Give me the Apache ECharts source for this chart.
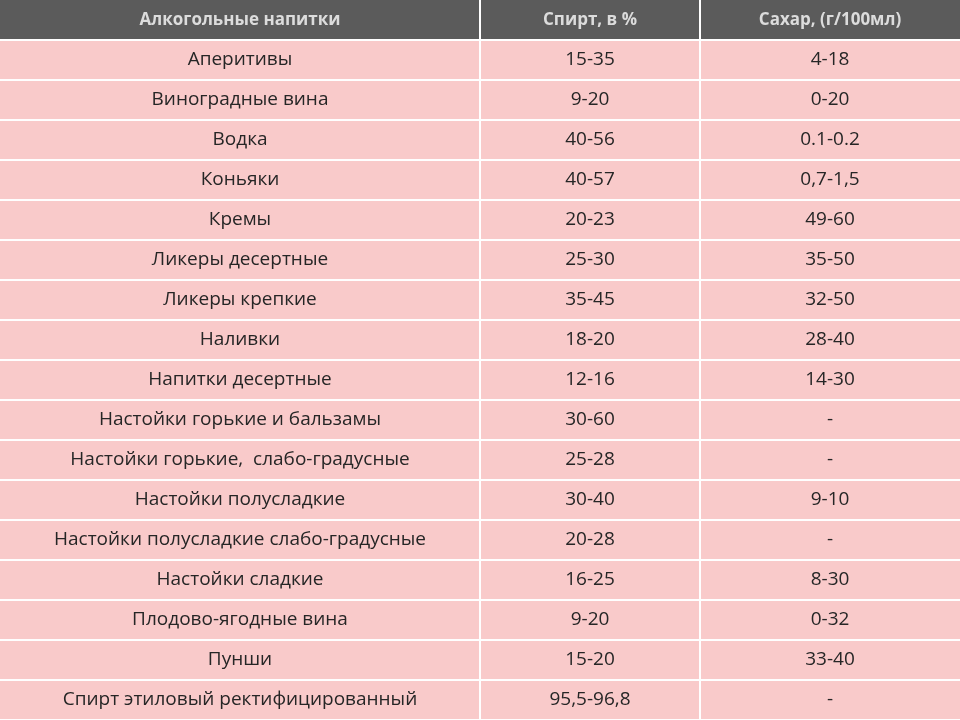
<!DOCTYPE html>
<html><head><meta charset="utf-8">
<script src="https://cdn.jsdelivr.net/npm/echarts@6/dist/echarts.min.js"></script>
<style>html,body{margin:0;padding:0;background:#fff}#c{width:960px;height:720px}</style>
</head><body><div id="c"></div>
<script>
const headers = ['Алкогольные напитки', 'Спирт, в %', 'Сахар, (г/100мл)'];
const drinks = ['Аперитивы','Виноградные вина','Водка','Коньяки','Кремы','Ликеры десертные','Ликеры крепкие','Наливки','Напитки десертные','Настойки горькие и бальзамы','Настойки горькие,  слабо-градусные','Настойки полусладкие','Настойки полусладкие слабо-градусные','Настойки сладкие','Плодово-ягодные вина','Пунши','Спирт этиловый ректифицированный'];
const alcohol = ['15-35','9-20','40-56','40-57','20-23','25-30','35-45','18-20','12-16','30-60','25-28','30-40','20-28','16-25','9-20','15-20','95,5-96,8'];
const sugar = ['4-18','0-20','0.1-0.2','0,7-1,5','49-60','35-50','32-50','28-40','14-30','-','-','9-10','-','8-30','0-32','33-40','-'];

const colStart = [0, 48, 70], colSpan = [48, 22, 26];
const nRows = drinks.length + 1;
const data = [];
headers.forEach((h, c) => data.push([c, 0, h]));
[drinks, alcohol, sugar].forEach((col, c) => col.forEach((v, r) => data.push([c, r + 1, v])));

const chart = echarts.init(document.getElementById('c'));
chart.setOption({
  animation: false,
  grid: {left: 0, right: 0, top: 0, bottom: 0},
  xAxis: {type: 'value', min: 0, max: 96, show: false},
  yAxis: {type: 'value', min: 0, max: nRows, inverse: true, show: false},
  series: [{
    type: 'custom',
    data: data,
    renderItem: function (params, api) {
      const c = api.value(0), r = api.value(1), txt = data[params.dataIndex][2];
      const p0 = api.coord([colStart[c], r]);
      const p1 = api.coord([colStart[c] + colSpan[c], r + 1]);
      const x = p0[0], y = p0[1], w = p1[0] - p0[0], h = p1[1] - p0[1];
      const header = r === 0;
      return {
        type: 'group',
        children: [
          {type: 'rect', shape: {x: x + (c > 0 ? 1 : 0), y: y + (header ? 0 : 1), width: w - (c > 0 ? 1 : 0) - (c < 2 ? 1 : 0), height: h - (header ? 0 : 1) - 1},
           style: {fill: header ? '#5b5b5b' : '#f9caca'}},
          {type: 'text', style: {text: txt, x: x + w / 2, y: y + h / 2, align: 'center', verticalAlign: 'middle',
            fill: header ? '#dcdcdc' : '#262626', font: (header ? 'bold 17px' : '19px') + ' "Open Sans", "DejaVu Sans", sans-serif'}}
        ]
      };
    }
  }]
});
</script></body></html>
